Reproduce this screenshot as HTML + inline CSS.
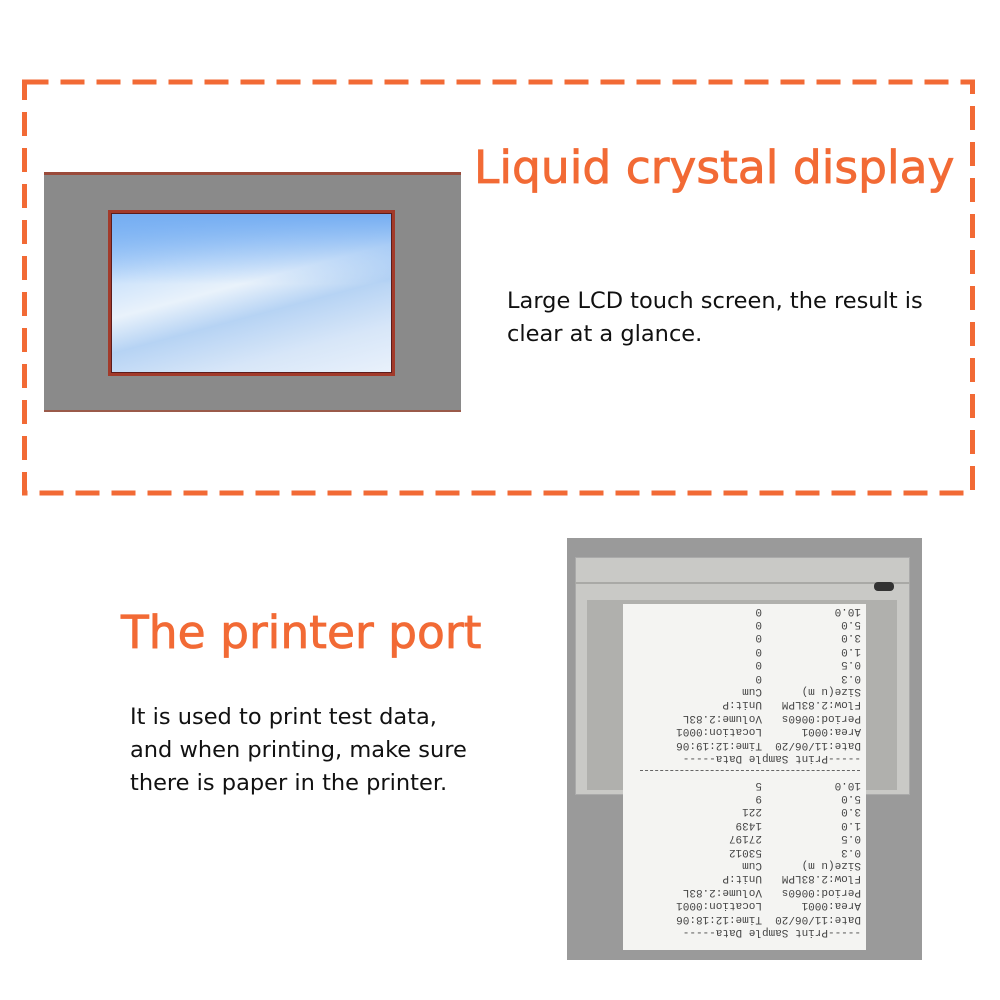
<!DOCTYPE html>
<html><head><meta charset="utf-8"><style>
body{margin:0;width:1000px;height:1000px;background:#fff;position:relative;overflow:hidden;font-family:"DejaVu Sans","Liberation Sans",sans-serif}
.a{position:absolute}
.t{color:#f26a35;font-size:45.5px;white-space:nowrap;-webkit-text-stroke:0.8px #f26a35}
.b{color:#111;font-size:22.5px;line-height:33px;white-space:nowrap}
.paper{font-family:"Liberation Mono",monospace;font-size:11px;line-height:13.4px;color:#444;transform:rotate(180deg);white-space:pre}
</style></head><body>
<svg class="a" style="left:0;top:0" width="1000" height="1000">
<rect x="24.5" y="82" width="948" height="411" fill="none" stroke="#f26a35" stroke-width="5" stroke-dasharray="24,12"/>
</svg>
<!-- LCD -->
<div class="a" style="left:44px;top:172px;width:417px;height:240px;background:#8a8a8a;border-top:3px solid #9a4a3a;border-bottom:2px solid #9a5a4a;box-sizing:border-box"></div>
<div class="a" style="left:108px;top:210px;width:287px;height:166px;background:#5c1c1c;border:3px solid #a23a2a;box-sizing:border-box"></div>
<div class="a" style="left:112px;top:214px;width:279px;height:158px;background:linear-gradient(165deg,#8cbef7 0%,#cfe4fb 30%,#e9f2fb 45%,#b6d3f4 60%,#d7e6f8 80%,#e9f1fb 100%)"></div>
<div class="a" style="left:112px;top:214px;width:279px;height:70px;background:linear-gradient(180deg,#76aef2,rgba(118,174,242,0))"></div>
<div class="a t" style="left:474px;top:141px">Liquid crystal display</div>
<div class="a b" style="left:507px;top:285px">Large LCD touch screen, the result is<br>clear at a glance.</div>
<!-- printer -->
<div class="a t" style="left:121px;top:606px">The printer port</div>
<div class="a b" style="left:130px;top:701px">It is used to print test data,<br>and when printing, make sure<br>there is paper in the printer.</div>
<div class="a" style="left:567px;top:538px;width:355px;height:422px;background:#9a9a9a"></div>
<div class="a" style="left:575px;top:557px;width:335px;height:238px;background:#c9c9c6;border:1px solid #aaa;box-sizing:border-box"></div>
<div class="a" style="left:575px;top:582px;width:335px;height:2px;background:#a9a9a6"></div>
<div class="a" style="left:874px;top:582px;width:20px;height:9px;background:#333;border-radius:4px"></div>
<div class="a" style="left:587px;top:600px;width:310px;height:190px;background:#b0b0ad"></div>
<div class="a" style="left:623px;top:604px;width:243px;height:346px;background:#f4f4f2"></div>
<div class="a paper" style="left:636px;top:602px;width:225px;height:162px">-----Print Sample Data-----
Date:11/06/20  Time:12:19:06
Area:0001      Location:0001
Period:0060s   Volume:2.83L
Flow:2.83LPM   Unit:P
Size(u m)      Cum
0.3            0
0.5            0
1.0            0
3.0            0
5.0            0
10.0           0</div>
<div class="a" style="left:640px;top:770px;width:220px;height:1px;border-top:1px dashed #666"></div>
<div class="a paper" style="left:636px;top:776px;width:225px;height:162px">-----Print Sample Data-----
Date:11/06/20  Time:12:18:06
Area:0001      Location:0001
Period:0060s   Volume:2.83L
Flow:2.83LPM   Unit:P
Size(u m)      Cum
0.3            53012
0.5            27197
1.0            1439
3.0            221
5.0            9
10.0           5</div>
</body></html>
